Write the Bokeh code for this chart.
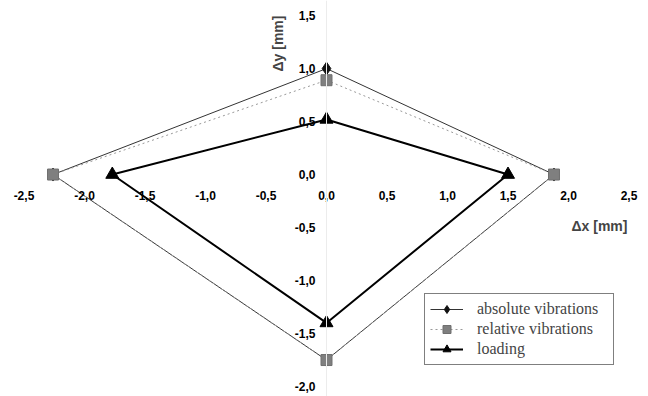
import math
from bokeh.plotting import figure
from bokeh.models import FixedTicker, Label, Legend, LegendItem
from bokeh.embed import file_html
from bokeh.resources import INLINE

# ---- data ----
x_ticks = [-2.5, -2.0, -1.5, -1.0, -0.5, 0.0, 0.5, 1.0, 1.5, 2.0, 2.5]
x_tick_labels = ["-2,5", "-2,0", "-1,5", "-1,0", "-0,5", "0,0", "0,5", "1,0", "1,5", "2,0", "2,5"]
y_ticks = [-2.0, -1.5, -1.0, -0.5, 0.0, 0.5, 1.0, 1.5]
y_tick_labels = ["-2,0", "-1,5", "-1,0", "-0,5", "0,0", "0,5", "1,0", "1,5"]

abs_x = [0.0, 1.88, 0.0, -2.26, 0.0]
abs_y = [1.0, 0.0, -1.75, 0.0, 1.0]
rel_x = [0.0, 1.88, 0.0, -2.26, 0.0]
rel_y = [0.89, 0.0, -1.75, 0.0, 0.89]
load_x = [0.0, 1.5, 0.0, -1.77, 0.0]
load_y = [0.52, 0.0, -1.40, 0.0, 0.52]

p = figure(width=648, height=396, x_range=(-2.694, 2.661), y_range=(-2.094, 1.642),
           output_backend="svg", toolbar_location=None, min_border=0)
p.outline_line_color = None
p.grid.visible = False
p.background_fill_color = "white"

tick_font = "Liberation Sans"
p.xaxis.fixed_location = 0
p.yaxis.fixed_location = 0
p.xaxis.ticker = FixedTicker(ticks=x_ticks)
p.yaxis.ticker = FixedTicker(ticks=y_ticks)
p.xaxis.major_label_overrides = dict(zip(x_ticks, x_tick_labels))
p.yaxis.major_label_overrides = dict(zip(y_ticks, y_tick_labels))
for ax in (p.xaxis, p.yaxis):
    ax.major_tick_line_color = None
    ax.minor_tick_line_color = None
    ax.major_label_text_font = tick_font
    ax.major_label_text_font_style = "bold"
    ax.major_label_text_font_size = "12px"
    ax.major_label_text_color = "black"
p.xaxis.axis_line_color = None
p.yaxis.axis_line_color = "#ececec"
p.xaxis.major_label_standoff = 10
p.yaxis.major_label_standoff = 5

l_abs = p.line(abs_x, abs_y, line_color="#333333", line_width=1)
l_rel = p.line(rel_x, rel_y, line_color="#999999", line_width=1, line_dash="2 3")
l_load = p.line(load_x, load_y, line_color="black", line_width=2)
m_abs = p.scatter(abs_x[:-1], abs_y[:-1], marker="diamond", size=13, fill_color="#111111", line_color="#111111")
m_rel = p.scatter(rel_x[:-1], rel_y[:-1], marker="square", size=11, fill_color="#7f7f7f", line_color="#6f6f6f")
m_load = p.scatter(load_x[:-1], load_y[:-1], marker="triangle", size=13, fill_color="black", line_color="black")

p.add_layout(Label(x=2.256, y=-0.49, text="Δx [mm]", text_align="center", text_baseline="middle",
                   text_font=tick_font, text_font_style="bold", text_font_size="14px"))
p.add_layout(Label(x=-0.397, y=1.236, text="Δy [mm]", angle=math.pi / 2, text_align="center",
                   text_baseline="middle", text_font=tick_font, text_font_style="bold",
                   text_font_size="14px"))

legend = Legend(items=[LegendItem(label="absolute vibrations", renderers=[l_abs, m_abs]),
                       LegendItem(label="relative vibrations", renderers=[l_rel, m_rel]),
                       LegendItem(label="loading", renderers=[l_load, m_load])],
                location=(424, 31), border_line_color="black", border_line_width=1.5,
                padding=5, spacing=0, label_height=20, glyph_height=20, glyph_width=33,
                label_standoff=14, label_width=131, label_text_font="Liberation Serif",
                label_text_font_size="16px", background_fill_alpha=1, margin=0)
p.add_layout(legend)

open("out.html", "w").write(file_html(p, INLINE))
